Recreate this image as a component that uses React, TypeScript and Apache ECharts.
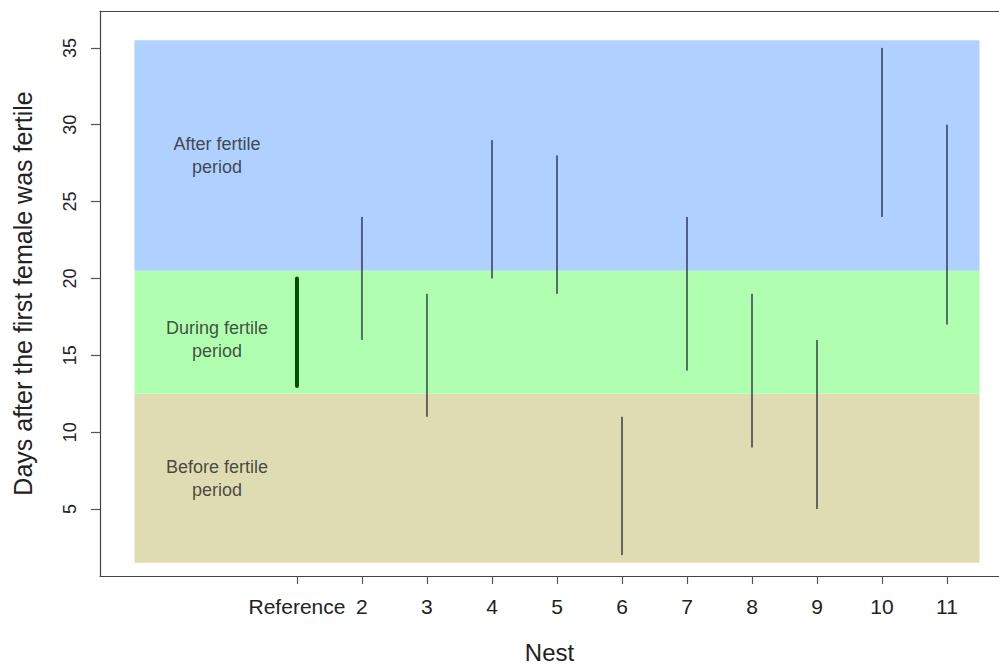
import React, { useEffect, useRef } from "react";
import * as echarts from "echarts";

// Nest positions on the x axis and their tick labels
const nestPositions = [1, 2, 3, 4, 5, 6, 7, 8, 9, 10, 11];
const nestLabels = ["Reference", "2", "3", "4", "5", "6", "7", "8", "9", "10", "11"];

// Activity ranges per nest (days after the first female was fertile)
const rangeStart = [13, 16, 11, 20, 19, 2, 14, 9, 5, 24, 17];
const rangeEnd = [20, 24, 19, 29, 28, 11, 24, 19, 16, 35, 30];

// Fertility phase bands
const bandNames = ["Before fertile\nperiod", "During fertile\nperiod", "After fertile\nperiod"];
const bandLower = [1.5, 12.5, 20.5];
const bandUpper = [12.5, 20.5, 35.5];
const bandColors = ["#dfdcb4", "#b0ffb0", "#b0d0ff"];
const bandXRange = [-1.5, 11.5];
const bandLabelY = [7, 16, 28];
const bandLabelX = -0.23;

const yTicks = [5, 10, 15, 20, 25, 30, 35];

const FONT = "'Liberation Sans', Arial, Helvetica, sans-serif";

export default function App() {
  const ref = useRef<HTMLDivElement>(null);

  useEffect(() => {
    if (!ref.current) return;
    const chart = echarts.init(ref.current, null, { renderer: "svg" });

    const bandData = bandNames.map((_, i) => [bandXRange[0], bandXRange[1], bandLower[i], bandUpper[i], i]);
    const segData = nestPositions.map((x, i) => [x, rangeStart[i], rangeEnd[i], i]);
    const labelData = bandNames.map((name, i) => ({ value: [bandLabelX, bandLabelY[i]], name }));

    const axisLineStyle = { color: "#444", width: 1.2 };

    chart.setOption({
      animation: false,
      backgroundColor: "#ffffff",
      grid: {
        left: 100,
        top: 11,
        width: 899,
        height: 565,
        containLabel: false,
        outerBoundsMode: "none",
      },
      xAxis: [
        {
          type: "value",
          min: -2.03,
          max: 11.8,
          position: "bottom",
          splitLine: { show: false },
          axisLine: { show: true, onZero: false, lineStyle: axisLineStyle },
          axisTick: { show: true, customValues: nestPositions, length: 8, lineStyle: { color: "#555", width: 1.2 } },
          axisLabel: {
            show: true,
            customValues: nestPositions,
            formatter: (v: number) => nestLabels[nestPositions.indexOf(Math.round(v))] ?? "",
            fontSize: 21,
            fontFamily: FONT,
            color: "#222",
            margin: 20,
          },
          name: "Nest",
          nameLocation: "middle",
          nameGap: 64,
          nameTextStyle: { fontSize: 24, fontFamily: FONT, color: "#222" },
        },
        {
          type: "value",
          min: -2.03,
          max: 11.8,
          position: "top",
          splitLine: { show: false },
          axisLine: { show: true, onZero: false, lineStyle: axisLineStyle },
          axisTick: { show: false },
          axisLabel: { show: false },
        },
      ],
      yAxis: {
        type: "value",
        min: 0.64,
        max: 37.4,
        splitLine: { show: false },
        axisLine: { show: true, onZero: false, lineStyle: axisLineStyle },
        axisTick: { show: true, customValues: yTicks, length: 9, lineStyle: { color: "#555", width: 1.2 } },
        axisLabel: {
          show: true,
          customValues: yTicks,
          rotate: 90,
          fontSize: 18,
          fontFamily: FONT,
          color: "#222",
          margin: 21,
        },
        name: "Days after the first female was fertile",
        nameLocation: "middle",
        nameGap: 65,
        nameTextStyle: { fontSize: 25, fontFamily: FONT, color: "#222" },
      },
      series: [
        {
          type: "custom",
          name: "bands",
          xAxisIndex: 0,
          data: bandData,
          renderItem: (params: any, api: any) => {
            const p1 = api.coord([api.value(0), api.value(3)]);
            const p2 = api.coord([api.value(1), api.value(2)]);
            const idx = api.value(4);
            return {
              type: "rect",
              shape: { x: p1[0], y: p1[1], width: p2[0] - p1[0], height: p2[1] - p1[1] },
              style: { fill: bandColors[idx] },
            };
          },
          z: 1,
          silent: true,
        },
        {
          type: "custom",
          name: "ranges",
          xAxisIndex: 0,
          data: segData,
          renderItem: (params: any, api: any) => {
            const x = api.value(0);
            const a = api.coord([x, api.value(1)]);
            const b = api.coord([x, api.value(2)]);
            const isRef = api.value(3) === 0;
            return {
              type: "line",
              shape: { x1: a[0], y1: a[1], x2: b[0], y2: b[1] },
              style: isRef
                ? { stroke: "#004d00", lineWidth: 4, lineCap: "round" }
                : { stroke: "rgba(0,0,30,0.55)", lineWidth: 2, lineCap: "butt" },
            };
          },
          z: 3,
          silent: true,
        },
        {
          type: "scatter",
          name: "band labels",
          xAxisIndex: 0,
          symbolSize: 0,
          data: labelData,
          label: {
            show: true,
            position: "inside",
            formatter: (p: any) => p.name,
            fontSize: 18,
            lineHeight: 23,
            fontFamily: FONT,
            color: "#222",
            align: "center",
          },
          z: 4,
          silent: true,
        },
      ],
    });

    return () => chart.dispose();
  }, []);

  return <div ref={ref} style={{ width: 999, height: 664, position: "absolute", left: 0, top: 0 }} />;
}
